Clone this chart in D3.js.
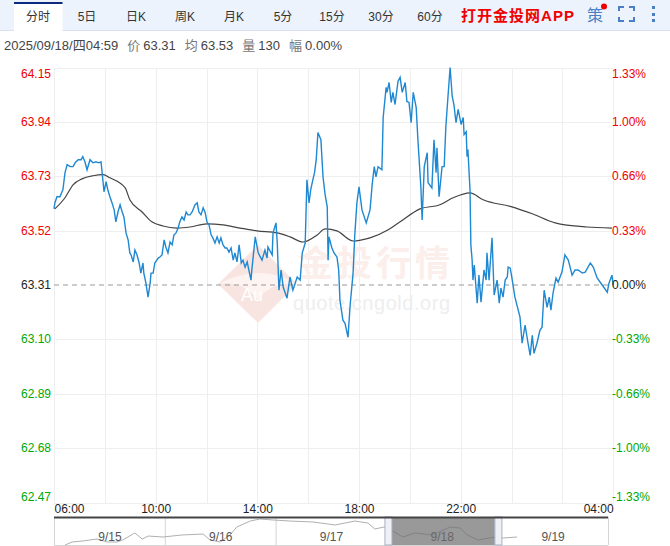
<!DOCTYPE html>
<html lang="zh">
<head>
<meta charset="utf-8">
<title>分时</title>
<script src="https://cdn.jsdelivr.net/npm/d3@7/dist/d3.min.js"></script>
<style>
  html, body { margin: 0; padding: 0; background: #fff; overflow: hidden; }
  svg { display: block; font-family: "Liberation Sans", "Noto Sans CJK SC", sans-serif; }
  .tick line { shape-rendering: crispEdges; }
  .domain { display: none; }
</style>
</head>
<body>
<svg id="chart" width="670" height="546"></svg>
<script>
// tabs and header text
var tabs = ["分时", "5日", "日K", "周K", "月K", "5分", "15分", "30分", "60分"];
var infoLine = ["2025/09/18/四04:59", "价", "63.31", "均", "63.53", "量", "130", "幅", "0.00%"];

// axis labels
var priceTicks = [64.15, 63.94, 63.73, 63.52, 63.31, 63.10, 62.89, 62.68, 62.47];
var pctTicks = ["1.33%", "1.00%", "0.66%", "0.33%", "0.00%", "-0.33%", "-0.66%", "-1.00%", "-1.33%"];
var timeTicks = [0, 240, 480, 720, 960, 1320];
var timeLabels = ["06:00", "10:00", "14:00", "18:00", "22:00", "04:00"];
var gridMinutes = [0, 120, 240, 360, 480, 600, 720, 840, 960, 1080, 1200, 1320];
var prevClose = 63.31;

// price line, minutes since 06:00
var minutes = [0,2,7,14,19,21,26,31,38,45,50,57,64,68,73,78,85,92,99,106,111,116,118,123,127,132,137,142,146,151,156,161,165,170,175,179,182,187,191,196,201,205,210,212,217,222,227,229,234,238,246,250,255,260,264,269,274,279,283,288,293,297,302,307,312,316,321,326,333,338,342,347,352,357,361,366,371,375,380,385,390,394,399,404,408,413,418,423,427,432,437,442,446,451,456,460,465,467,475,482,491,498,503,505,515,517,524,527,531,536,541,550,557,564,574,581,586,593,597,602,606,611,615,619,623,630,635,640,645,647,649,656,661,668,672,675,682,687,694,699,706,710,715,720,727,737,746,751,756,760,765,774,777,784,786,791,796,800,805,812,817,822,829,833,838,843,848,855,859,866,869,874,881,883,892,897,902,904,909,916,921,925,930,935,940,944,949,954,961,966,968,973,975,977,982,984,987,989,992,999,1003,1008,1015,1020,1022,1027,1034,1039,1046,1051,1055,1060,1065,1070,1072,1077,1081,1088,1100,1105,1112,1119,1124,1129,1133,1140,1147,1152,1157,1164,1169,1173,1178,1185,1190,1199,1206,1214,1223,1230,1237,1247,1254,1266,1273,1282,1294,1306,1310,1317,1320];
var prices = [63.604,63.627,63.651,63.651,63.670,63.678,63.744,63.775,63.767,63.767,63.782,63.794,63.794,63.806,63.786,63.755,63.794,63.782,63.786,63.782,63.786,63.705,63.670,63.709,63.678,63.651,63.627,63.600,63.554,63.592,63.620,63.592,63.573,63.511,63.484,63.434,63.426,63.399,63.445,63.426,63.395,63.356,63.395,63.356,63.317,63.263,63.317,63.356,63.356,63.395,63.414,63.418,63.426,63.484,63.457,63.434,63.476,63.465,63.503,63.511,63.530,63.554,63.573,63.561,63.592,63.581,63.581,63.592,63.620,63.627,63.592,63.581,63.608,63.589,63.554,63.542,63.503,63.492,63.472,63.496,63.472,63.492,63.465,63.453,63.453,63.437,63.453,63.406,63.434,63.399,63.465,63.395,63.406,63.379,63.399,63.368,63.329,63.368,63.496,63.434,63.406,63.445,63.414,63.457,63.426,63.511,63.550,63.472,63.290,63.368,63.302,63.259,63.341,63.290,63.341,63.329,63.434,63.472,63.716,63.627,63.678,63.716,63.744,63.794,63.899,63.871,63.728,63.658,63.612,63.406,63.496,63.453,63.434,63.418,63.368,63.251,63.174,63.162,63.108,63.232,63.356,63.503,63.627,63.689,63.600,63.550,63.600,63.697,63.767,63.728,63.767,63.755,63.957,64.073,64.054,64.092,64.015,64.054,64.007,64.096,64.112,64.054,64.092,64.019,64.015,63.937,64.054,63.995,63.871,63.689,63.561,63.767,63.821,63.705,63.685,63.871,63.744,63.840,63.651,63.767,63.767,63.922,64.038,64.150,64.038,64.007,63.937,63.988,63.930,63.957,63.891,63.902,63.806,63.833,63.678,63.465,63.406,63.329,63.387,63.240,63.348,63.244,63.368,63.329,63.434,63.329,63.492,63.271,63.329,63.240,63.298,63.263,63.329,63.341,63.379,63.375,63.337,63.263,63.186,63.085,63.155,63.085,63.038,63.116,63.046,63.085,63.135,63.147,63.290,63.224,63.263,63.213,63.279,63.337,63.321,63.360,63.426,63.406,63.348,63.368,63.368,63.356,63.360,63.395,63.379,63.337,63.310,63.282,63.317,63.348,63.310];

// average line
var avgMinutes = [2,26,45,66,92,116,132,168,179,208,231,257,290,321,361,399,439,479,527,557,588,621,640,668,706,746,789,817,864,911,942,982,1013,1081,1129,1183,1258,1317];
var avgPrices = [63.604,63.647,63.697,63.720,63.732,63.736,63.724,63.685,63.639,63.592,63.554,63.538,63.530,63.534,63.546,63.542,63.530,63.519,63.511,63.496,63.476,63.503,63.527,63.519,63.480,63.492,63.523,63.554,63.604,63.620,63.647,63.666,63.639,63.612,63.585,63.550,63.534,63.530];

// navigator overview, hours since 9/15 06:00
var navHours = [2.4,3.9,6.3,9.3,11.5,13.6,14.9,16,17.5,19.1,20.4,23.6,27.7,32.3,33.8,36,38.1,39.6,42.5,44.6,47.4,51.1,56.1,60.9,63,65.2,68,69.5,71.5,73.4,75.6,78.2,81.9,85.8,88,89.5,91.8,95.5,97.3,100.3];
var navPrices = [62.0,62.31,62.42,62.62,62.31,62.31,62.52,62.83,63.25,62.62,62.93,62.83,63.04,63.14,62.52,62.31,63.04,63.87,64.49,64.70,64.60,64.49,64.39,64.08,64.28,64.49,64.28,63.66,63.87,63.45,62.83,63.25,63.04,63.87,63.76,63.04,62.52,62.83,62.73,62.83];
var navDays = ["9/15", "9/16", "9/17", "9/18", "9/19"];
var navDayHours = [12, 36, 60, 84, 108];
var navSelected = [73.2, 95.5];

var svg = d3.select("#chart");

var x = d3.scaleLinear().domain([0, 1320]).range([54, 613.2]);
var y = d3.scaleLinear().domain([62.47, 64.15]).range([502.5, 67.5]);
var navX = d3.scaleLinear().domain([0, 120]).range([54, 608]);
var navY = d3.scaleLinear().domain([62, 64.7]).range([545, 519]);

function tickColor(i) {
  if (i < 4) return "#f00000";
  if (i == 4) return "#222";
  return "#00a800";
}

// header
svg.append("rect").attr("width", 670).attr("height", 30).attr("fill", "#edf3fc");
svg.append("line").attr("x1", 0).attr("x2", 670).attr("y1", 30.5).attr("y2", 30.5).attr("stroke", "#d9e1f2");
svg.append("rect").attr("x", 14).attr("y", 3).attr("width", 48.5).attr("height", 28).attr("fill", "#fff");
svg.append("rect").attr("x", 14).attr("y", 2).attr("width", 48.5).attr("height", 2).attr("fill", "#0b2a80");

svg.selectAll("text.tab")
  .data(tabs)
  .enter()
  .append("text")
  .attr("class", "tab")
  .attr("x", function(d, i) { return 38 + i * 49; })
  .attr("y", 21)
  .attr("text-anchor", "middle")
  .attr("font-size", 12)
  .attr("fill", "#333")
  .text(function(d) { return d; });

svg.append("text").attr("x", 461).attr("y", 21).attr("font-size", 15).attr("font-weight", "bold")
  .attr("fill", "#f00000").attr("textLength", 113).text("打开金投网APP");
svg.append("text").attr("x", 595).attr("y", 21).attr("text-anchor", "middle").attr("font-size", 16)
  .attr("fill", "#4a7fc4").text("策");
svg.append("circle").attr("cx", 604).attr("cy", 6.5).attr("r", 3).attr("fill", "#f00000");

// fullscreen icon and menu dots
svg.append("path")
  .attr("d", "M619 11V7H624 M629 7H634V11 M634 17V21H629 M624 21H619V17")
  .attr("fill", "none").attr("stroke", "#4a7fc4").attr("stroke-width", 2);
svg.selectAll("rect.dot")
  .data([7, 14, 20])
  .enter()
  .append("rect")
  .attr("class", "dot")
  .attr("x", 652).attr("y", function(d) { return d - 1; })
  .attr("width", 3).attr("height", 3).attr("fill", "#4a7fc4");

// info line
var info = svg.append("text").attr("x", 4).attr("y", 50).attr("font-size", 13).attr("fill", "#444");
infoLine.forEach(function(d, i) {
  info.append("tspan")
    .attr("dx", i == 0 ? 0 : (i % 2 == 1 ? 9 : 3))
    .attr("fill", i > 0 && i % 2 == 1 ? "#777" : "#444")
    .text(d);
});

// grid
svg.append("g").attr("transform", "translate(0,502.5)")
  .call(d3.axisBottom(x).tickValues(gridMinutes).tickSize(-435).tickFormat(""))
  .selectAll(".tick line").attr("stroke", "#eeeeee");
var priceGrid = svg.append("g").attr("transform", "translate(613.2,0)")
  .call(d3.axisLeft(y).tickValues(priceTicks).tickSize(559).tickFormat(""));
priceGrid.selectAll(".tick line").attr("stroke", function(d) { return d == prevClose ? "none" : "#eeeeee"; });

// watermark
var mark = svg.append("g");
mark.append("path")
  .attr("d", "M218 284L258 245L297 284L258 323Z")
  .attr("fill", "#f8e4e0");
mark.append("path")
  .attr("d", "M218 284Q262 262 297 284Q270 282 258 300Q243 280 218 284Z")
  .attr("fill", "#fdf3f1");
mark.append("text").attr("x", 252).attr("y", 301).attr("text-anchor", "middle").attr("font-size", 18)
  .attr("fill", "#fff").text("Au");
mark.append("text").attr("x", 298).attr("y", 276).attr("font-size", 35).attr("font-weight", "bold").attr("fill", "#fbeeeb")
  .attr("textLength", 152).text("金投行情");
mark.append("text").attr("x", 293).attr("y", 310).attr("font-size", 20).attr("fill", "#eeeeee")
  .attr("textLength", 157).text("quote.cngold.org");

// previous close
svg.append("line").attr("x1", x(0)).attr("x2", x(1320)).attr("y1", y(prevClose)).attr("y2", y(prevClose))
  .attr("stroke", "#999").attr("stroke-dasharray", "5,4");

// series
var priceLine = d3.line()
  .x(function(d) { return x(d[0]); })
  .y(function(d) { return y(d[1]); });

svg.append("path")
  .datum(d3.zip(avgMinutes, avgPrices))
  .attr("d", priceLine.curve(d3.curveMonotoneX))
  .attr("fill", "none").attr("stroke", "#444").attr("stroke-width", 1.2);

svg.append("path")
  .datum(d3.zip(minutes, prices))
  .attr("d", priceLine.curve(d3.curveLinear))
  .attr("fill", "none").attr("stroke", "#1f88d2").attr("stroke-width", 1.4);

// y axes
var leftAxis = svg.append("g").attr("transform", "translate(54,0)")
  .call(d3.axisLeft(y).tickValues(priceTicks).tickSize(0).tickPadding(3).tickFormat(d3.format(".2f")));
var rightAxis = svg.append("g").attr("transform", "translate(609,0)")
  .call(d3.axisRight(y).tickValues(priceTicks).tickSize(0).tickPadding(3)
    .tickFormat(function(d, i) { return pctTicks[i]; }));

[leftAxis, rightAxis].forEach(function(axis) {
  axis.attr("font-family", null).attr("font-size", 12);
  axis.selectAll("text")
    .attr("fill", function(d, i) { return tickColor(i); })
    .attr("dy", function(d, i) { return i == 0 ? "0.85em" : (i == 8 ? "-0.2em" : "0.3em"); });
});

// time axis
var timeAxis = svg.append("g").attr("transform", "translate(0,502.5)")
  .call(d3.axisBottom(x).tickValues(timeTicks).tickSize(0).tickPadding(2)
    .tickFormat(function(d, i) { return timeLabels[i]; }));
timeAxis.attr("font-family", null).attr("font-size", 12);
timeAxis.selectAll("text")
  .attr("fill", "#222")
  .attr("text-anchor", function(d, i) { return i == 0 ? "start" : (i == 5 ? "end" : "middle"); });

// navigator
var nav = svg.append("g");
nav.selectAll("line.sep")
  .data([0, 24, 48, 120])
  .enter()
  .append("line")
  .attr("class", "sep")
  .attr("x1", function(d) { return navX(d) + 0.5; })
  .attr("x2", function(d) { return navX(d) + 0.5; })
  .attr("y1", 517).attr("y2", 545)
  .attr("stroke", "#d5d5d5");
nav.append("line").attr("x1", navX(0)).attr("x2", navX(120)).attr("y1", 545.5).attr("y2", 545.5).attr("stroke", "#d5d5d5");
nav.append("path")
  .datum(d3.zip(navHours, navPrices))
  .attr("d", d3.line().x(function(d) { return navX(d[0]); }).y(function(d) { return navY(d[1]); }))
  .attr("fill", "none").attr("stroke", "#b0b0b0").attr("stroke-width", 1);
nav.selectAll("text")
  .data(navDays)
  .enter()
  .append("text")
  .attr("x", function(d, i) { return navX(navDayHours[i]) + 0.5; })
  .attr("y", 541)
  .attr("text-anchor", "middle")
  .attr("font-size", 12)
  .attr("fill", "#555")
  .text(function(d) { return d; });
// selection sits over the overview line so it darkens it
nav.append("rect").attr("x", navX(navSelected[0])).attr("y", 518).attr("height", 27)
  .attr("width", navX(navSelected[1]) - navX(navSelected[0])).attr("fill", "#6e6e6e").attr("fill-opacity", 0.7);
nav.selectAll("rect.handle")
  .data(navSelected)
  .enter()
  .append("rect")
  .attr("class", "handle")
  .attr("x", function(d, i) { return navX(d) + (i == 0 ? -7 : 0); })
  .attr("y", 517).attr("width", 7).attr("height", 28)
  .attr("fill", "#eef0f6").attr("stroke", "#a8afc6");
nav.append("rect").attr("x", navX(0)).attr("y", 516.5).attr("height", 2)
  .attr("width", navX(120) - navX(0)).attr("fill", "#444");
</script>
</body>
</html>
